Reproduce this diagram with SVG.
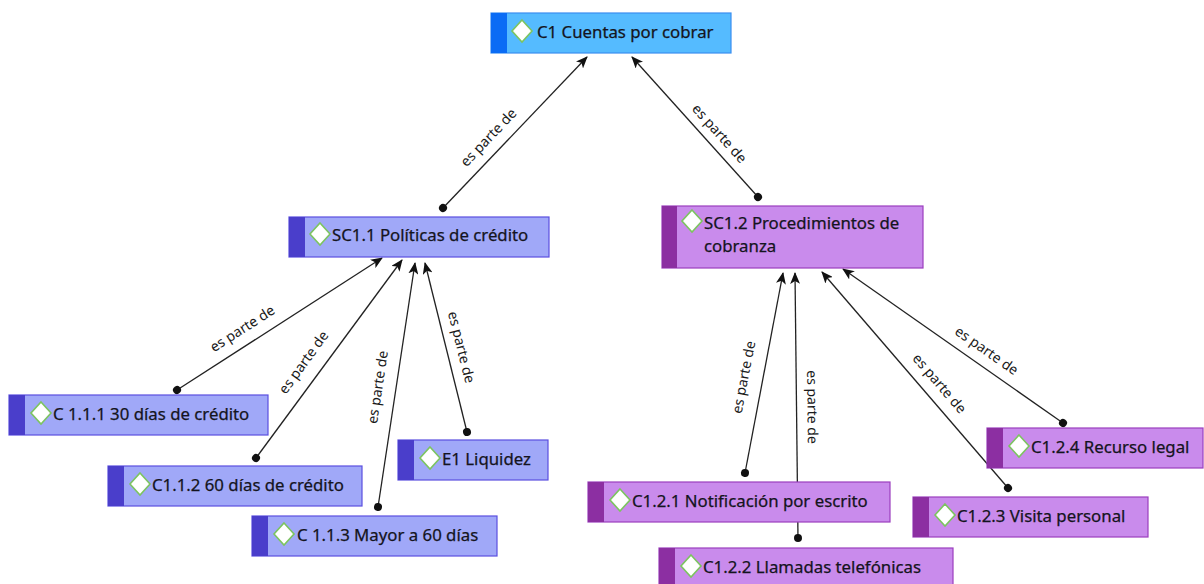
<svg xmlns="http://www.w3.org/2000/svg" width="1204" height="584" viewBox="0 0 1204 584">
<defs>
<marker id="arrow" markerUnits="userSpaceOnUse" markerWidth="12" markerHeight="10" viewBox="0 0 12 10" refX="11" refY="5" orient="auto">
<path d="M0,0 L12,5 L0,10 L3,5 z" fill="#111"/>
</marker>
<marker id="dot" markerUnits="userSpaceOnUse" markerWidth="10" markerHeight="10" viewBox="-5 -5 10 10" refX="0" refY="0" orient="auto">
<circle r="4" fill="#111"/>
</marker>
<path id="dia" d="M0,-11 L10,0 L0,11 L-10,0 z"/>
</defs>
<style>
.c{stroke:#222;stroke-width:1.3;fill:none;marker-start:url(#dot);marker-end:url(#arrow)}
.lbl{font-family:"Noto Sans","DejaVu Sans",sans-serif;font-size:14px;fill:#1a1a1a;text-anchor:middle;dominant-baseline:central}
.t{font-family:"Noto Sans","DejaVu Sans",sans-serif;font-size:16.8px;fill:#141420;stroke:#141420;stroke-width:0.25}
.bx-c{fill:#55bbff;stroke:#3a8ef0;stroke-width:1.2}
.st-c{fill:#0a6cf5}
.bx-b{fill:#a0a8f8;stroke:#5a4fe0;stroke-width:1.2}
.st-b{fill:#4a3ecb}
.bx-p{fill:#c98bec;stroke:#9b3fbf;stroke-width:1.2}
.st-p{fill:#8c2fa2}
.d{fill:#fff;stroke:#7cc460;stroke-width:1.6}
</style>
<g id="connectors">
<line class="c" x1="443" y1="208" x2="587" y2="57"/>
<line class="c" x1="758" y1="197" x2="632" y2="57"/>
<line class="c" x1="177" y1="390" x2="382" y2="258"/>
<line class="c" x1="256" y1="458" x2="402" y2="260"/>
<line class="c" x1="378" y1="507" x2="415" y2="263"/>
<line class="c" x1="467" y1="432" x2="425" y2="263"/>
<line class="c" x1="745" y1="473" x2="783" y2="273"/>
<line class="c" x1="798" y1="538" x2="795" y2="273"/>
<line class="c" x1="1008" y1="488" x2="822" y2="272"/>
<line class="c" x1="1063" y1="423" x2="843" y2="269"/>
<text class="lbl" transform="translate(488,137) rotate(-46.4)">es parte de</text>
<text class="lbl" transform="translate(720,133) rotate(48)">es parte de</text>
<text class="lbl" transform="translate(242,328) rotate(-32.6)">es parte de</text>
<text class="lbl" transform="translate(303,362) rotate(-54)">es parte de</text>
<text class="lbl" transform="translate(377,387) rotate(-81.4)">es parte de</text>
<text class="lbl" transform="translate(462,347) rotate(76)">es parte de</text>
<text class="lbl" transform="translate(743,377) rotate(-79)">es parte de</text>
<text class="lbl" transform="translate(813,407) rotate(89.4)">es parte de</text>
<text class="lbl" transform="translate(940,383) rotate(49.3)">es parte de</text>
<text class="lbl" transform="translate(987,350) rotate(35)">es parte de</text>
</g>
<g id="n-c1">
<rect class="bx-c" x="491" y="13" width="240" height="40"/>
<rect class="st-c" x="491" y="13" width="16" height="40"/>
<use href="#dia" class="d" x="522" y="31"/>
<text class="t" x="537" y="38">C1 Cuentas por cobrar</text>
</g>
<g id="n-sc11">
<rect class="bx-b" x="289" y="217" width="260" height="40"/>
<rect class="st-b" x="289" y="217" width="16" height="40"/>
<use href="#dia" class="d" x="320" y="234"/>
<text class="t" x="332" y="241">SC1.1 Políticas de crédito</text>
</g>
<g id="n-sc12">
<rect class="bx-p" x="662" y="206" width="261" height="62"/>
<rect class="st-p" x="662" y="206" width="15" height="62"/>
<use href="#dia" class="d" x="692" y="221"/>
<text class="t" x="704" y="229">SC1.2 Procedimientos de</text>
<text class="t" x="704" y="252">cobranza</text>
</g>
<g id="n-c111">
<rect class="bx-b" x="9" y="395" width="259" height="40"/>
<rect class="st-b" x="9" y="395" width="16" height="40"/>
<use href="#dia" class="d" x="41" y="413"/>
<text class="t" x="53" y="420">C 1.1.1 30 días de crédito</text>
</g>
<g id="n-c112">
<rect class="bx-b" x="108" y="466" width="254" height="40"/>
<rect class="st-b" x="108" y="466" width="16" height="40"/>
<use href="#dia" class="d" x="140" y="484"/>
<text class="t" x="152" y="491">C1.1.2 60 días de crédito</text>
</g>
<g id="n-c113">
<rect class="bx-b" x="252" y="516" width="245" height="40"/>
<rect class="st-b" x="252" y="516" width="16" height="40"/>
<use href="#dia" class="d" x="284" y="534"/>
<text class="t" x="297" y="541">C 1.1.3 Mayor a 60 días</text>
</g>
<g id="n-e1">
<rect class="bx-b" x="398" y="440" width="150" height="40"/>
<rect class="st-b" x="398" y="440" width="16" height="40"/>
<use href="#dia" class="d" x="430" y="458"/>
<text class="t" x="442" y="465">E1 Liquidez</text>
</g>
<g id="n-c121">
<rect class="bx-p" x="588" y="482" width="302" height="40"/>
<rect class="st-p" x="588" y="482" width="16" height="40"/>
<use href="#dia" class="d" x="620" y="500"/>
<text class="t" x="632" y="507">C1.2.1 Notificación por escrito</text>
</g>
<g id="n-c122">
<rect class="bx-p" x="659" y="548" width="294" height="40"/>
<rect class="st-p" x="659" y="548" width="16" height="40"/>
<use href="#dia" class="d" x="691" y="566"/>
<text class="t" x="703" y="573">C1.2.2 Llamadas telefónicas</text>
</g>
<g id="n-c123">
<rect class="bx-p" x="913" y="497" width="235" height="40"/>
<rect class="st-p" x="913" y="497" width="16" height="40"/>
<use href="#dia" class="d" x="945" y="515"/>
<text class="t" x="957" y="522">C1.2.3 Visita personal</text>
</g>
<g id="n-c124">
<rect class="bx-p" x="987" y="428" width="216" height="40"/>
<rect class="st-p" x="987" y="428" width="16" height="40"/>
<use href="#dia" class="d" x="1019" y="446"/>
<text class="t" x="1031" y="453">C1.2.4 Recurso legal</text>
</g>
</svg>
